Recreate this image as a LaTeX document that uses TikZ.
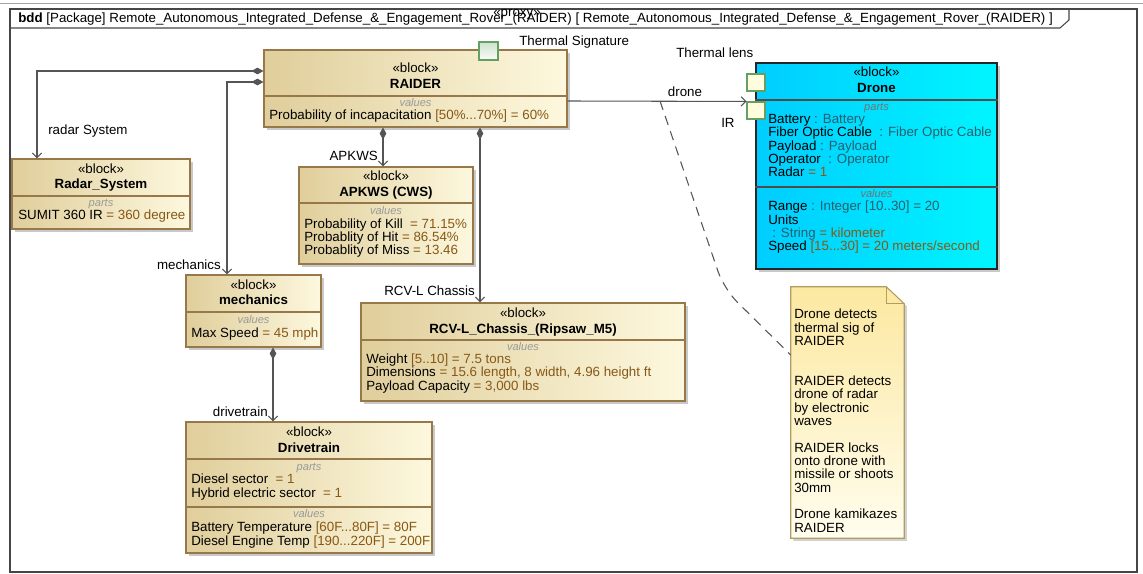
\documentclass[tikz,border=0pt]{standalone}
\usepackage{fontspec}
\setmainfont{Liberation Sans}
\usetikzlibrary{arrows.meta,positioning,fit,shadows,calc}
\definecolor{blkdark}{RGB}{224,206,155}
\definecolor{blklight}{RGB}{253,248,222}
\definecolor{blkedge}{RGB}{150,120,75}
\definecolor{valbrown}{RGB}{135,88,22}
\definecolor{dronedark}{RGB}{0,205,255}
\definecolor{dronelight}{RGB}{0,245,255}
\definecolor{typeteal}{RGB}{35,95,110}
\definecolor{notetop}{RGB}{252,232,160}
\definecolor{notebot}{RGB}{255,253,238}
\definecolor{noteedge}{RGB}{178,156,98}
\definecolor{portgreen}{RGB}{100,160,100}
\definecolor{portgfill}{RGB}{205,225,205}
\definecolor{portyfill}{RGB}{255,253,222}
\definecolor{linegray}{RGB}{85,85,85}
\definecolor{framecol}{RGB}{70,70,70}
\newcommand{\pval}[1]{{\color{valbrown}#1}}
\newcommand{\ptyp}[1]{{\color{typeteal}#1}}
\tikzset{%
  tipD/.tip={Diamond[length=9pt,width=5pt]},
  tipO/.tip={Straight Barb[length=3.5pt,width=7pt]},
  blk/.style={draw=blkedge, line width=.8pt, left color=blkdark, right color=blklight, inner sep=0pt,
    drop shadow={shadow xshift=2pt,shadow yshift=-2pt,fill=black!30,opacity=.7}},
  dronebox/.style={blk, draw=black!85, left color=dronedark, right color=dronelight},
  sepline/.style={draw=blkedge, line width=.8pt},
  dronesep/.style={draw=black!70, line width=.8pt},
  stereo/.style={inner sep=0pt, anchor=base},
  bname/.style={inner sep=0pt, anchor=base, font=\fontsize{10}{10}\selectfont\bfseries},
  comptitle/.style={inner sep=0pt, anchor=base, text=black!40, font=\fontsize{8.3}{9}\selectfont\itshape},
  % multi-line: base anchor sits on the last line
  props/.style={inner sep=0pt, anchor=base west, align=left},
  role/.style={inner sep=0pt},
  portg/.style={draw=portgreen, line width=.8pt, top color=portgfill, bottom color=white!90!portgfill, inner sep=0pt, minimum width=14.25pt, minimum height=13.5pt},
  porty/.style={draw=portgreen, line width=.8pt, fill=portyfill, inner sep=0pt, minimum width=13.5pt, minimum height=12.75pt},
  compo/.style={draw=linegray, line width=.8pt, tipD-tipO},
  assoc/.style={draw=linegray, line width=.8pt, -tipO},
  noteline/.style={draw=linegray, line width=.8pt, dash pattern=on 7pt off 5pt, rounded corners=14}
}

\begin{document}
\begin{tikzpicture}[x=0.75pt,y=-0.75pt,font=\fontsize{10}{10}\selectfont]
\useasboundingbox (0,0) rectangle (1143,574);
\draw[black!35] (0,3) -- (1143,3);
% diagram frame
\draw[framecol, line width=.8pt] (10,9) rectangle (1137,572);
\draw[framecol, line width=.8pt] (10,28) -- (1060,28) -- (1069,20) -- (1069,9);
\node[inner sep=0pt, anchor=base west] (hdr) at (18,23) {\textbf{bdd} [Package] Remote\_Autonomous\_Integrated\_Defense\_\&\_Engagement\_Rover\_(RAIDER) [ Remote\_Autonomous\_Integrated\_Defense\_\&\_Engagement\_Rover\_(RAIDER) ]};
\node[inner sep=0pt, anchor=base] (proxy) at (517,17) {«proxy»};

% RAIDER
\node[blk, fit={(264,50) (567,127)}] (raider) {};
\draw[sepline] (raider.west |- 0,96) -- (raider.east |- 0,96);
\node[stereo] (raiderst) at (raider.north |- 0,73) {«block»};
\node[bname] (raidernm) at (raider.north |- 0,89) {RAIDER};
\node[comptitle] (raidervt) at (raider.north |- 0,107) {values};
\node[props] (raidervl) at (269,120) {Probability of incapacitation \pval{[50\%...70\%] = 60\%}};
\node[portg] (tsig) at (488.5,51) {};
\node[role, anchor=base west] (tsiglbl) at (519,46) {Thermal Signature};

% Radar_System
\node[blk, fit={(12,159) (190,229)}] (radar) {};
\draw[sepline] (radar.west |- 0,196) -- (radar.east |- 0,196);
\node[stereo] (radarst) at (radar.north |- 0,174) {«block»};
\node[bname] (radarnm) at (radar.north |- 0,189) {Radar\_System};
\node[comptitle] (radarpt) at (radar.north |- 0,207) {parts};
\node[props] (radarvl) at (18,220) {SUMIT 360 IR \pval{= 360 degree}};

% APKWS
\node[blk, fit={(299,167) (473,264)}] (apkws) {};
\draw[sepline] (apkws.west |- 0,203) -- (apkws.east |- 0,203);
\node[stereo] (apkwsst) at (apkws.north |- 0,181) {«block»};
\node[bname] (apkwsnm) at (apkws.north |- 0,197) {APKWS (CWS)};
\node[comptitle] (apkwsvt) at (apkws.north |- 0,215) {values};
\node[props] (apkwsvl) at (304,255) {Probability of Kill\ \ \pval{= 71.15\%}\\Probablity of Hit \pval{= 86.54\%}\\Probablity of Miss \pval{= 13.46}};

% mechanics
\node[blk, fit={(186,275) (321,347)}] (mech) {};
\draw[sepline] (mech.west |- 0,312) -- (mech.east |- 0,312);
\node[stereo] (mechst) at (mech.north |- 0,289) {«block»};
\node[bname] (mechnm) at (mech.north |- 0,305) {mechanics};
\node[comptitle] (mechvt) at (mech.north |- 0,323) {values};
\node[props] (mechvl) at (191,337) {Max Speed \pval{= 45 mph}};

% RCV-L chassis
\node[blk, fit={(361,303) (685,401)}] (rcv) {};
\draw[sepline] (rcv.west |- 0,340) -- (rcv.east |- 0,340);
\node[stereo] (rcvst) at (rcv.north |- 0,317) {«block»};
\node[bname] (rcvnm) at (rcv.north |- 0,333) {RCV-L\_Chassis\_(Ripsaw\_M5)};
\node[comptitle] (rcvvt) at (rcv.north |- 0,350) {values};
\node[props] (rcvvl) at (366,390) {Weight \pval{[5..10] = 7.5 tons}\\Dimensions \pval{= 15.6 length, 8 width, 4.96 height ft}\\Payload Capacity \pval{= 3,000 lbs}};

% Drivetrain
\node[blk, fit={(186,422) (432,553)}] (drive) {};
\draw[sepline] (drive.west |- 0,459) -- (drive.east |- 0,459);
\draw[sepline] (drive.west |- 0,507) -- (drive.east |- 0,507);
\node[stereo] (drivest) at (drive.north |- 0,436) {«block»};
\node[bname] (drivenm) at (drive.north |- 0,452) {Drivetrain};
\node[comptitle] (drivept) at (drive.north |- 0,470) {parts};
\node[props] (drivepl) at (191,497) {Diesel sector\ \ \pval{= 1}\\Hybrid electric sector\ \ \pval{= 1}};
\node[comptitle] (drivevt) at (drive.north |- 0,517) {values};
\node[props] (drivevl) at (191,545) {Battery Temperature \pval{[60F...80F] = 80F}\\Diesel Engine Temp \pval{[190...220F] = 200F}};

% Drone
\node[dronebox, fit={(756,63) (997,269)}] (drone) {};
\draw[dronesep] (drone.west |- 0,100) -- (drone.east |- 0,100);
\draw[dronesep] (drone.west |- 0,187) -- (drone.east |- 0,187);
\node[stereo] (dronest) at (drone.north |- 0,77) {«block»};
\node[bname] (dronenm) at (drone.north |- 0,93) {Drone};
\node[comptitle, text=black!55] (dronept) at (drone.north |- 0,111) {parts};
\node[props] (dronepl) at (768,177) {Battery \ptyp{: Battery}\\Fiber Optic Cable\ \ \ptyp{: Fiber Optic Cable}\\Payload \ptyp{: Payload}\\Operator\ \ \ptyp{: Operator}\\Radar \pval{= 1}};
\node[comptitle, text=black!55] (dronevt) at (drone.north |- 0,198) {values};
\node[props] (dronevl) at (768,251) {Range \ptyp{: Integer [10..30] = 20}\\Units\\\hspace*{3pt}\ptyp{: String} \pval{= kilometer}\\Speed \pval{[15...30] = 20 meters/second}};
\node[porty] (portlens) at (756,82.5) {};
\node[porty] (portir) at (756,110.5) {};
\node[role, anchor=base west] (lenslbl) at (676,58) {Thermal lens};
\node[role, anchor=base west] (irlbl) at (721,128) {IR};

% note
\node[fit={(791,287) (904,538)}, inner sep=0pt] (note) {};
\draw[draw=noteedge, line width=.8pt, top color=notetop, bottom color=notebot,
  drop shadow={shadow xshift=2pt,shadow yshift=-2pt,fill=black!30,opacity=.6}]
  (note.north west) -- ($(note.north east)+(-18,0)$) -- ($(note.north east)+(0,17)$)
  -- (note.south east) -- (note.south west) -- cycle;
\draw[draw=noteedge, line width=.8pt] ($(note.north east)+(-18,0)$) -- ($(note.north east)+(-18,17)$) -- ($(note.north east)+(0,17)$);
\node[props] (notetx) at (794,532) {Drone detects\\thermal sig of\\RAIDER\\[20pt]RAIDER detects\\drone of radar\\by electronic\\waves\\[10pt]RAIDER locks\\onto drone with\\missile or shoots\\30mm\\[10pt]Drone kamikazes\\RAIDER};

% connectors
\draw[compo] (raider.west |- 0,71) -| (radar.north -| 37,0);
\node[role, anchor=base west] (lblradar) at (48,135) {radar System};
\draw[compo] (raider.west |- 0,82) -| (mech.north -| 227,0);
\node[role, anchor=base east] (lblmech) at (221,269) {mechanics};
\draw[compo] (raider.south -| 383,0) -- (apkws.north -| 383,0);
\node[role, anchor=base east] (lblapkws) at (378,161) {APKWS};
\draw[compo] (raider.south -| 480,0) -- (rcv.north -| 480,0);
\node[role, anchor=base east] (lblrcv) at (475,296) {RCV-L Chassis};
\draw[compo] (mech.south -| 273,0) -- (drive.north -| 273,0);
\node[role, anchor=base east] (lbldrive) at (268,416) {drivetrain};
\draw[assoc] (raider.east |- 0,101) -- (portir.north west);
\node[role, anchor=base] (lbldrone) at (685,97) {drone};
\coordinate (anc) at (660,101);
\draw[noteline] (anc) -- (724,289) -- (note.west |- 0,355);
\end{tikzpicture}
\end{document}
